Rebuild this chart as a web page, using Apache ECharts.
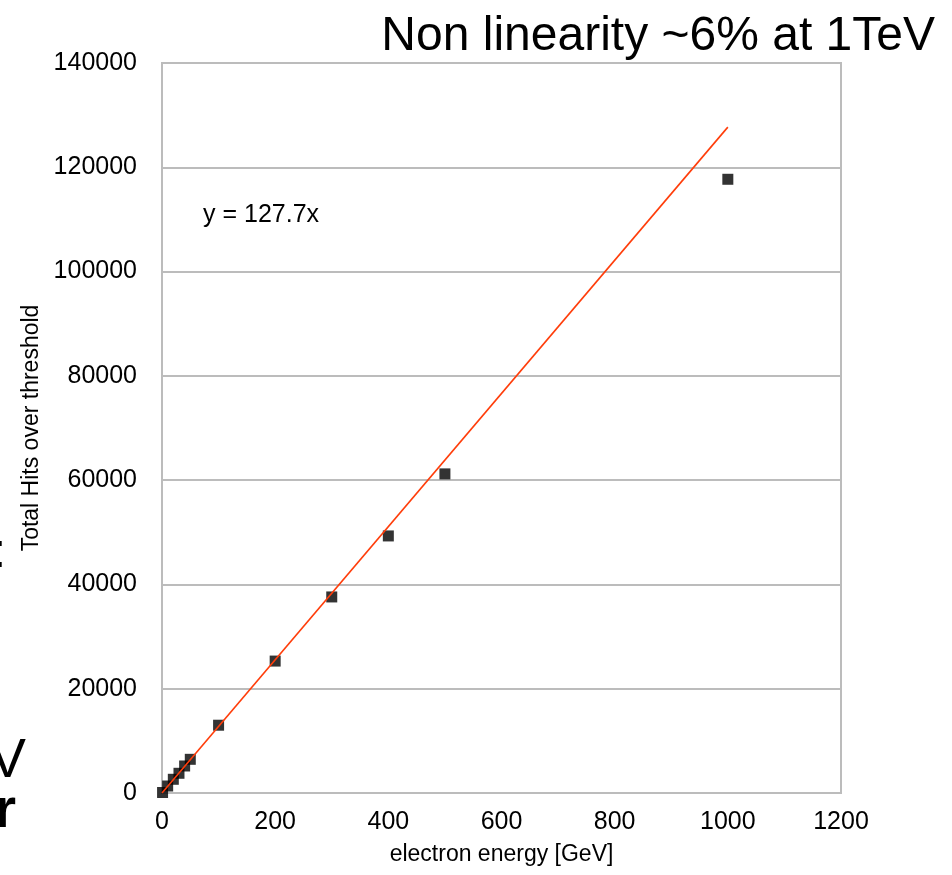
<!DOCTYPE html>
<html>
<head>
<meta charset="utf-8">
<script src="https://cdn.jsdelivr.net/npm/echarts@6/dist/echarts.min.js"></script>
<style>
  html, body { margin: 0; padding: 0; background: #fff; }
  #chart { width: 952px; height: 875px; }
</style>
</head>
<body>
<div id="chart"></div>
<script>
  // measured points: electron energy [GeV] vs total hits
  const energies = [1, 10, 20, 30, 40, 50, 100, 200, 300, 400, 500, 1000];
  const hits = [100, 1340, 2630, 3780, 5180, 6460, 13000, 25300, 37600, 49300, 61200, 117700];
  // linear fit y = 127.7x, drawn from 0 to 1000
  const fitSlope = 127.7;
  const fitRange = [0, 1000];

  const points = energies.map((e, i) => [e, hits[i]]);
  const fitLine = fitRange.map(x => [x, fitSlope * x]);

  const font = 'Liberation Sans, Arial, sans-serif';
  const dom = document.getElementById('chart');
  const myChart = echarts.init(dom);
  const option = {
    animation: false,
    backgroundColor: '#fff',
    title: {
      text: 'Non linearity ~6% at 1TeV',
      right: 12,
      top: 8,
      textStyle: { fontFamily: font, fontSize: 48, fontWeight: 'normal', color: '#000' }
    },
    grid: {
      left: 162,
      right: 111,
      top: 63,
      bottom: 82,
      show: true,
      borderColor: '#bcbcbc',
      borderWidth: 2
    },
    xAxis: {
      type: 'value',
      min: 0,
      max: 1200,
      interval: 200,
      name: 'electron energy [GeV]',
      nameLocation: 'middle',
      nameGap: 50,
      nameTextStyle: { fontFamily: font, fontSize: 23, color: '#000' },
      axisLine: { show: false },
      axisTick: { show: false },
      splitLine: { show: false },
      axisLabel: { fontFamily: font, fontSize: 25, color: '#000', margin: 17, formatter: v => String(v) }
    },
    yAxis: {
      type: 'value',
      min: 0,
      max: 140000,
      interval: 20000,
      name: 'Total Hits over threshold',
      nameLocation: 'middle',
      nameGap: 116,
      nameTextStyle: { fontFamily: font, fontSize: 23, color: '#000' },
      axisLine: { show: false },
      axisTick: { show: false },
      splitLine: { show: true, lineStyle: { color: '#bcbcbc', width: 2 } },
      axisLabel: { fontFamily: font, fontSize: 25, color: '#000', margin: 25, formatter: v => String(v) }
    },
    series: [
      {
        type: 'line',
        data: fitLine,
        symbol: 'none',
        lineStyle: { color: '#ff3d0a', width: 1.6 },
        z: 3
      },
      {
        type: 'scatter',
        data: points,
        symbol: 'rect',
        symbolSize: 11,
        itemStyle: { color: '#000' },
        z: 2
      }
    ],
    graphic: [
      {
        type: 'text', left: 203, top: 203,
        style: { text: 'y = 127.7x', font: '25px ' + font, fill: '#000' }
      },
      // cut-off slide text at the left edge
      {
        type: 'text', x: 6, y: 530,
        style: { text: ':', font: '48px ' + font, fill: '#000', align: 'right' }
      },
      {
        type: 'text', x: 26, y: 734,
        style: { text: 'V', font: '55px ' + font, fill: '#000', align: 'right' }
      },
      {
        type: 'text', x: 16, y: 784,
        style: { text: 'r', font: 'bold 56px ' + font, fill: '#000', align: 'right' }
      }
    ]
  };
  myChart.setOption(option);
</script>
</body>
</html>
